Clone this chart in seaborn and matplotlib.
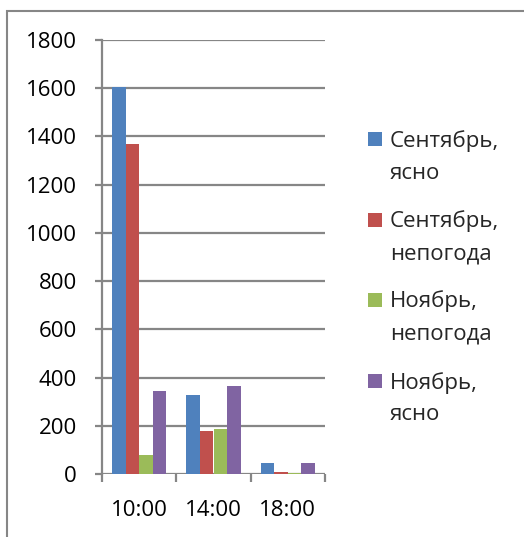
import matplotlib
matplotlib.use("Agg")
import matplotlib.pyplot as plt
from matplotlib.patches import Rectangle
import seaborn as sns
import pandas as pd

times = ["10:00", "14:00", "18:00"]
series = ["Сентябрь, ясно", "Сентябрь, непогода", "Ноябрь, непогода", "Ноябрь, ясно"]
legend_lines = [("Сентябрь,", "ясно"), ("Сентябрь,", "непогода"),
                ("Ноябрь,", "непогода"), ("Ноябрь,", "ясно")]
sep_clear = [1605, 328, 44]
sep_bad = [1369, 178, 7]
nov_bad = [78, 187, 4]
nov_clear = [345, 365, 44]
colors = ["#4F81BD", "#C0504D", "#9BBB59", "#8064A2"]
yticks = list(range(0, 1801, 200))

sns.set_style("white")
plt.rcParams["font.family"] = ["Open Sans", "DejaVu Sans"]

values = [sep_clear, sep_bad, nov_bad, nov_clear]
rows = []
for s, vals in zip(series, values):
    for t, v in zip(times, vals):
        rows.append({"time": t, "series": s, "value": v})
df = pd.DataFrame(rows)

W, H = 524, 537
fig = plt.figure(figsize=(W / 100, H / 100), dpi=100)
ax = fig.add_axes([102 / W, 1 - 474 / H, (325 - 102) / W, (474 - 40) / H])

sns.barplot(data=df, x="time", y="value", hue="series", order=times,
            hue_order=series, palette=colors, width=0.73, saturation=1,
            linewidth=0, legend=False, ax=ax)

grid_c = "#868686"
ax.set_ylim(0, 1800)
ax.set_xlim(-0.5, 2.5)
ax.set_yticks(yticks)
ax.set_yticklabels([str(v) for v in yticks])
ax.set_xlabel("")
ax.set_ylabel("")
ax.yaxis.grid(True, color=grid_c, lw=1.6)
ax.set_axisbelow(True)
for side in ["top", "right", "bottom"]:
    ax.spines[side].set_visible(False)
ax.spines["left"].set_color(grid_c)
ax.spines["left"].set_linewidth(1.6)
ax.tick_params(axis="y", length=5, width=1.6, color=grid_c, pad=13,
               labelsize=16, labelcolor="black", left=True)
ax.set_xticks([-0.5, 0.5, 1.5, 2.5], minor=True)
ax.tick_params(axis="x", which="minor", length=6, width=1.6, color=grid_c,
               bottom=True)
ax.tick_params(axis="x", which="major", length=0, pad=19, labelsize=16,
               labelcolor="black")

# legend
sq = 14
centers = [138.5, 219.5, 299.5, 380.5]
for c, col, (l1, l2) in zip(centers, colors, legend_lines):
    fig.add_artist(Rectangle((368 / W, 1 - (c + sq / 2) / H), sq / W, sq / H,
                             transform=fig.transFigure, color=col, lw=0))
    fig.text(390 / W, 1 - (c + 8) / H, l1, fontsize=16, va="baseline", ha="left")
    fig.text(390 / W, 1 - (c + 40) / H, l2, fontsize=16, va="baseline", ha="left")

# chart border
fig.add_artist(Rectangle((7 / W, -0.05), 1.2, 1 - 10.5 / H + 0.05,
                         transform=fig.transFigure, fill=False,
                         ec=grid_c, lw=1.5))

fig.savefig("out.png", dpi=100)
